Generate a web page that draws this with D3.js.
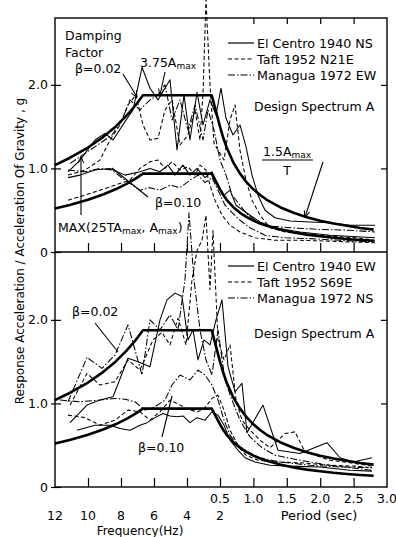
<!DOCTYPE html>
<html><head><meta charset="utf-8">
<script src="https://cdn.jsdelivr.net/npm/d3@7"></script>
<style>
body{margin:0;background:#fff}
svg{display:block}
text{font-family:"DejaVu Sans",sans-serif;fill:#000}
</style>
</head><body>
<svg id="c" width="396" height="537"></svg>
<script>
// ---------- DATA (period T in seconds, response in g) ----------
const freqTicks = [12, 10, 8, 6, 4, 2];
const periodTicks = [0.5, 1.0, 1.5, 2.0, 2.5, 3.0];
const yTicks = [0, 1, 2];

const designA02 = [[.0833,1.04],[.09,1.125],[.1,1.25],[.11,1.375],[.12,1.5],[.13,1.625],[.14,1.75],[.15,1.875],[.4,1.875],[.5,1.5],[.55,1.364],[.6,1.25],[.7,1.071],[.8,.938],[.9,.833],[1.0,.75],[1.1,.682],[1.2,.625],[1.4,.536],[1.6,.469],[1.8,.417],[2.0,.375],[2.2,.341],[2.4,.313],[2.6,.288],[2.8,.268]];
const designA10 = [[.0833,.52],[.09,.563],[.1,.625],[.11,.688],[.12,.75],[.13,.813],[.14,.875],[.15,.938],[.4,.938],[.5,.75],[.55,.682],[.6,.625],[.7,.536],[.8,.469],[.9,.417],[1.0,.375],[1.1,.341],[1.2,.313],[1.4,.268],[1.6,.234],[1.8,.208],[2.0,.188],[2.2,.170],[2.4,.156],[2.6,.144],[2.8,.134]];

// top panel
const topElCentro02 = [[.0892,.96],[.0954,1.10],[.1044,1.34],[.1115,1.42],[.1179,1.34],[.1289,1.56],[.1375,1.70],[.1487,2.21],[.1602,1.96],[.1737,1.82],[.1988,2.06],[.2171,1.22],[.2391,1.88],[.2619,1.34],[.2946,1.91],[.3300,1.52],[.3837,1.82],[.4460,1.64],[.515,1.96],[.590,1.60],[.695,1.40],[.799,1.52],[.889,1.26],[.979,.92],[1.069,.68],[1.174,.50],[1.323,.41],[1.548,.37],[1.847,.36],[2.147,.35],[2.446,.32],[2.820,.32]];
const topTaft02 = [[.0892,.92],[.0982,.98],[.1078,1.10],[.1154,1.34],[.1241,1.52],[.1320,1.76],[.1410,1.88],[.1500,1.52],[.1602,1.34],[.1737,1.36],[.1875,1.70],[.2037,1.82],[.2260,1.28],[.2538,1.40],[.2845,1.70],[.3113,1.34],[.3300,1.90],[.3511,3.02],[.3837,2.00],[.4231,1.30],[.4714,1.22],[.560,1.10],[.650,1.58],[.725,1.76],[.799,1.22],[.889,.86],[.979,.62],[1.099,.44],[1.249,.29],[1.473,.24],[1.698,.22],[2.147,.19],[2.521,.17],[2.820,.14]];
const topManagua02 = [[.0902,1.06],[.0982,1.18],[.1078,1.30],[.1170,1.40],[.1260,1.58],[.1341,1.82],[.1460,1.70],[.1602,1.82],[.1737,1.88],[.1875,2.0],[.2037,1.58],[.2260,1.82],[.2538,1.46],[.2845,1.76],[.3300,1.34],[.3667,1.70],[.4231,1.46],[.5,1.10],[.590,.92],[.680,.68],[.799,.56],[.919,.44],[1.069,.36],[1.249,.31],[1.548,.29],[1.997,.27],[2.446,.26],[2.820,.24]];
const topElCentro10 = [[.0892,.89],[.0954,.92],[.1044,.98],[.1154,1.00],[.1289,.92],[.1460,.96],[.1602,1.00],[.1774,.96],[.1941,1.04],[.2115,.92],[.2357,1.04],[.2619,.92],[.2946,1.00],[.3438,.89],[.4024,.96],[.4714,.80],[.560,.68],[.650,.74],[.740,.56],[.844,.50],[.949,.44],[1.099,.36],[1.323,.29],[1.698,.24],[2.147,.20],[2.820,.17]];
const topTaft10 = [[.0892,.62],[.0982,.68],[.1078,.74],[.1196,.80],[.1341,.86],[.1460,1.00],[.1602,1.08],[.1737,1.10],[.1875,1.00],[.2037,1.08],[.2260,.98],[.2538,1.02],[.2845,.92],[.3113,1.04],[.3511,.98],[.3837,.80],[.4342,.62],[.530,.44],[.650,.32],[.799,.24],[1.024,.17],[1.323,.14],[1.698,.14],[2.147,.13],[2.820,.11]];
const topManagua10 = [[.0892,.98],[.0982,.96],[.1078,1.00],[.1170,.98],[.1289,.86],[.1460,.74],[.1602,.77],[.1774,.74],[.1988,.80],[.2260,.77],[.2619,.86],[.3000,.92],[.3438,.83],[.4024,.89],[.4714,.74],[.575,.56],[.680,.47],[.799,.38],[.949,.29],[1.174,.20],[1.473,.17],[1.847,.16],[2.296,.14],[2.820,.12]];

// bottom panel
const botElCentro02 = [[.0902,.77],[.0994,.98],[.1078,1.04],[.1179,1.08],[.1320,1.54],[.1435,1.50],[.1602,1.44],[.1774,2.00],[.1919,2.24],[.2115,2.32],[.2324,2.28],[.2538,1.76],[.2750,1.88],[.3000,1.52],[.3367,1.76],[.3837,1.70],[.4460,2.00],[.530,2.24],[.620,1.44],[.725,1.14],[.829,1.24],[.904,.65],[1.144,.98],[1.368,.44],[1.698,.40],[2.102,.53],[2.296,.35],[2.491,.30],[2.775,.35]];
const botTaft02 = [[.0902,.98],[.0994,1.36],[.1078,1.22],[.1196,1.26],[.1320,1.52],[.1460,1.40],[.1650,1.76],[.1813,1.85],[.1988,1.70],[.2200,2.02],[.2463,1.70],[.2705,2.48],[.2946,2.83],[.3235,2.95],[.3511,3.25],[.3837,2.36],[.4125,3.07],[.4714,1.76],[.560,1.52],[.650,1.70],[.740,1.04],[.829,.80],[.949,.68],[1.099,.56],[1.249,.47],[1.473,.64],[1.623,.66],[1.772,.42],[1.922,.38],[2.147,.32],[2.446,.29],[2.775,.25]];
const botManagua02 = [[.0892,1.02],[.0994,1.55],[.1093,1.42],[.1196,1.58],[.1320,1.94],[.1487,1.34],[.1602,2.00],[.1774,1.88],[.1988,2.06],[.2200,1.88],[.2426,2.48],[.2578,3.28],[.2797,2.48],[.3113,1.88],[.3511,1.52],[.4024,1.34],[.4714,1.88],[.575,1.28],[.680,1.04],[.799,.80],[.949,.60],[1.129,.47],[1.323,.38],[1.698,.32],[2.147,.26],[2.446,.23],[2.775,.20]];
const botElCentro10 = [[.0938,.68],[.1044,.74],[.1154,.74],[.1241,.70],[.1341,.68],[.1460,.74],[.1557,.77],[.1684,.83],[.1833,.88],[.1988,.85],[.2171,.84],[.2357,.85],[.2619,.77],[.2946,.83],[.3438,.80],[.4024,.90],[.4714,.86],[.560,.74],[.650,.56],[.769,.44],[.874,.35],[1.024,.30],[1.249,.26],[1.548,.25],[1.997,.24],[2.446,.20],[2.775,.19]];
const botTaft10 = [[.0892,.86],[.0982,.83],[.1078,.74],[.1196,.80],[.1320,.92],[.1460,.90],[.1602,.80],[.1774,.90],[.1988,1.04],[.2260,.98],[.2619,.92],[.3000,.90],[.3438,.95],[.4024,1.06],[.4714,1.10],[.560,.92],[.650,.68],[.769,.50],[.889,.38],[1.069,.32],[1.323,.30],[1.698,.29],[2.147,.26],[2.521,.25],[2.775,.23]];
const botManagua10 = [[.0855,1.04],[.0954,1.02],[.1078,1.04],[.1196,1.06],[.1289,1.05],[.1398,1.02],[.1528,.92],[.1684,.96],[.1875,1.04],[.2037,1.22],[.2260,1.34],[.2619,1.28],[.3000,1.40],[.3438,1.34],[.4024,1.22],[.4714,1.04],[.560,.80],[.650,.62],[.769,.50],[.919,.42],[1.099,.35],[1.398,.30],[1.847,.26],[2.296,.24],[2.775,.23]];

const topLegend = ["El Centro 1940 NS", "Taft 1952 N21E", "Managua 1972 EW"];
const botLegend = ["El Centro 1940 EW", "Taft 1952 S69E", "Managua 1972 NS"];

// ---------- STYLES ----------
const styles = {
  solid: null,
  dashed: "4,2.5",
  dashdot: "7,2,1.5,2"
};

// ---------- SCALES ----------
const svg = d3.select("#c");
svg.append("rect").attr("width",396).attr("height",537).attr("fill","#fff");

const xF = d3.scaleLinear().domain([12, 2]).range([55, 220]);   // frequency part
const xT = d3.scaleLinear().domain([0.5, 3.0]).range([220, 387]); // period part
const X = T => T <= 0.5 ? xF(1 / T) : xT(T);
const yTop = d3.scaleLinear().domain([0, 2.8]).range([252, 18]);
const yBot = d3.scaleLinear().domain([0, 2.8]).range([487, 253]);

const defs = svg.append("defs");
defs.append("marker").attr("id","arr").attr("viewBox","0 0 10 10")
  .attr("refX",9).attr("refY",5).attr("markerWidth",7).attr("markerHeight",7)
  .attr("orient","auto-start-reverse").attr("markerUnits","userSpaceOnUse")
  .append("path").attr("d","M0,1 L10,5 L0,9").attr("fill","none").attr("stroke","#000").attr("stroke-width",1.4);

// ---------- FRAME & AXES ----------
function panelAxes(y, isTop) {
  const g = svg.append("g");
  g.append("g").attr("transform",`translate(0,${y(0)})`)
    .call(d3.axisBottom(xF).tickValues([10,8,6,4]).tickSize(-9).tickFormat(""))
    .call(s => s.select(".domain").remove());
  g.append("g").attr("transform",`translate(0,${y(0)})`)
    .call(d3.axisBottom(xT).tickValues([0.5,1,1.5,2,2.5]).tickSize(-9).tickFormat(""))
    .call(s => s.select(".domain").remove());
  if (isTop) {
    g.append("g").attr("transform",`translate(0,${y(2.8)})`)
      .call(d3.axisTop(xT).tickValues([1,1.5,2,2.5]).tickSize(-6).tickFormat(""))
      .call(s => s.select(".domain").remove());
  }
  g.append("g").attr("transform",`translate(61,0)`)
    .call(d3.axisLeft(y).tickValues(yTicks).tickSize(10).tickPadding(3)
      .tickFormat(d => d === 0 ? "0" : d.toFixed(1)))
    .call(s => s.select(".domain").remove())
    .call(s => s.selectAll("text").attr("font-size",12.5).attr("font-family","DejaVu Sans").attr("fill","#000"));
  g.append("g").attr("transform",`translate(387,0)`)
    .call(d3.axisRight(y).tickValues([1,2]).tickSize(-6).tickFormat(""))
    .call(s => s.select(".domain").remove());
  g.selectAll("line").attr("stroke","#000").attr("stroke-width",1.2);
}
panelAxes(yTop, true);
panelAxes(yBot, false);

svg.append("rect").attr("x",xF(12)).attr("y",yTop(2.8))
  .attr("width",xT(3.0)-xF(12)).attr("height",yBot(0)-yTop(2.8))
  .attr("fill","none").attr("stroke","#000").attr("stroke-width",1.4);
svg.append("line").attr("x1",xF(12)).attr("x2",xT(3.0)).attr("y1",yTop(0)).attr("y2",yTop(0))
  .attr("stroke","#000").attr("stroke-width",1.4);

// x labels
svg.append("g").selectAll("text").data(freqTicks).join("text")
  .attr("x", d => xF(d)).attr("y", 520).attr("text-anchor","middle").attr("font-size",12.5).text(d => d);
svg.append("g").selectAll("text").data(periodTicks).join("text")
  .attr("x", d => xT(d)).attr("y", 503).attr("text-anchor","middle").attr("font-size",12.5).text(d => d.toFixed(1));
svg.append("text").attr("x",319).attr("y",520).attr("text-anchor","middle").attr("font-size",13).text("Period (sec)");
svg.append("text").attr("x",140).attr("y",535).attr("text-anchor","middle").attr("font-size",12).text("Frequency(Hz)");
svg.append("text").attr("transform","translate(24,251) rotate(-90)").attr("text-anchor","middle")
  .attr("font-size",12).text("Response Acceleration / Acceleration Of Gravity , g");

// ---------- LINES ----------
function drawPanel(y, series) {
  const line = d3.line().x(d => X(d[0])).y(d => y(d[1]));
  const g = svg.append("g");
  series.forEach(s => {
    g.append("path").datum(s.data).attr("d", line).attr("fill","none")
      .attr("stroke","#000").attr("stroke-width", 1.05)
      .attr("stroke-dasharray", s.dash).attr("stroke-linejoin","round");
  });
  [designA02, designA10].forEach(d => {
    g.append("path").datum(d).attr("d", line).attr("fill","none")
      .attr("stroke","#000").attr("stroke-width",2.6).attr("stroke-linejoin","round");
  });
}
drawPanel(yTop, [
  {data: topElCentro02, dash: styles.solid},
  {data: topTaft02, dash: styles.dashed},
  {data: topManagua02, dash: styles.dashdot},
  {data: topElCentro10, dash: styles.solid},
  {data: topTaft10, dash: styles.dashed},
  {data: topManagua10, dash: styles.dashdot}
]);
drawPanel(yBot, [
  {data: botElCentro02, dash: styles.solid},
  {data: botTaft02, dash: styles.dashed},
  {data: botManagua02, dash: styles.dashdot},
  {data: botElCentro10, dash: styles.solid},
  {data: botTaft10, dash: styles.dashed},
  {data: botManagua10, dash: styles.dashdot}
]);

// ---------- LEGENDS ----------
function legend(labels, y0) {
  const dashes = [styles.solid, styles.dashed, styles.dashdot];
  labels.forEach((t, i) => {
    const yy = y0 + i * 16;
    svg.append("line").attr("x1",228).attr("x2",254).attr("y1",yy).attr("y2",yy)
      .attr("stroke","#000").attr("stroke-width",1.2).attr("stroke-dasharray",dashes[i]);
    svg.append("text").attr("x",257).attr("y",yy+4.5).attr("font-size",12.7).text(t);
  });
}
legend(topLegend, 43);
legend(botLegend, 266);
svg.append("text").attr("x",254).attr("y",111).attr("font-size",12.5).text("Design Spectrum A");
svg.append("text").attr("x",254).attr("y",338).attr("font-size",12.5).text("Design Spectrum A");

// ---------- ANNOTATIONS ----------
function t(x, y, str, fs) { return svg.append("text").attr("x",x).attr("y",y).attr("font-size",fs||12.5).text(str); }
function ln(x1,y1,x2,y2,arrow) {
  const l = svg.append("line").attr("x1",x1).attr("y1",y1).attr("x2",x2).attr("y2",y2)
    .attr("stroke","#000").attr("stroke-width",1.1);
  if (arrow) l.attr("marker-end","url(#arr)");
}
t(65, 40, "Damping");
t(65, 57, "Factor");
t(75, 73, "β=0.02");
ln(123, 74, 137, 97, true);
const a375 = svg.append("text").attr("x",140).attr("y",67).attr("font-size",12.5);
a375.append("tspan").text("3.75A");
a375.append("tspan").attr("font-size",9).attr("dy",2).text("max");
ln(165, 72, 160, 95, true);
t(155, 207, "β=0.10");
ln(148, 197, 112, 168, false);
const mx = svg.append("text").attr("x",58).attr("y",232).attr("font-size",12.5);
mx.append("tspan").text("MAX(25TA");
mx.append("tspan").attr("font-size",9).attr("dy",2).text("max");
mx.append("tspan").attr("dy",-2).text(", A");
mx.append("tspan").attr("font-size",9).attr("dy",2).text("max");
mx.append("tspan").attr("dy",-2).text(")");
ln(81, 215, 81, 157, true);
const num = svg.append("text").attr("x",263).attr("y",156).attr("font-size",12.5);
num.append("tspan").text("1.5A");
num.append("tspan").attr("font-size",9).attr("dy",2).text("max");
svg.append("line").attr("x1",262).attr("x2",313).attr("y1",160).attr("y2",160).attr("stroke","#000").attr("stroke-width",1.1);
t(287, 175, "T").attr("text-anchor","middle");
ln(323, 162, 305, 217, true);

t(72, 316, "β=0.02");
ln(95, 323, 118, 352, false);
t(138, 452, "β=0.10");
ln(162, 437, 172, 396, false);
</script>
</body></html>
